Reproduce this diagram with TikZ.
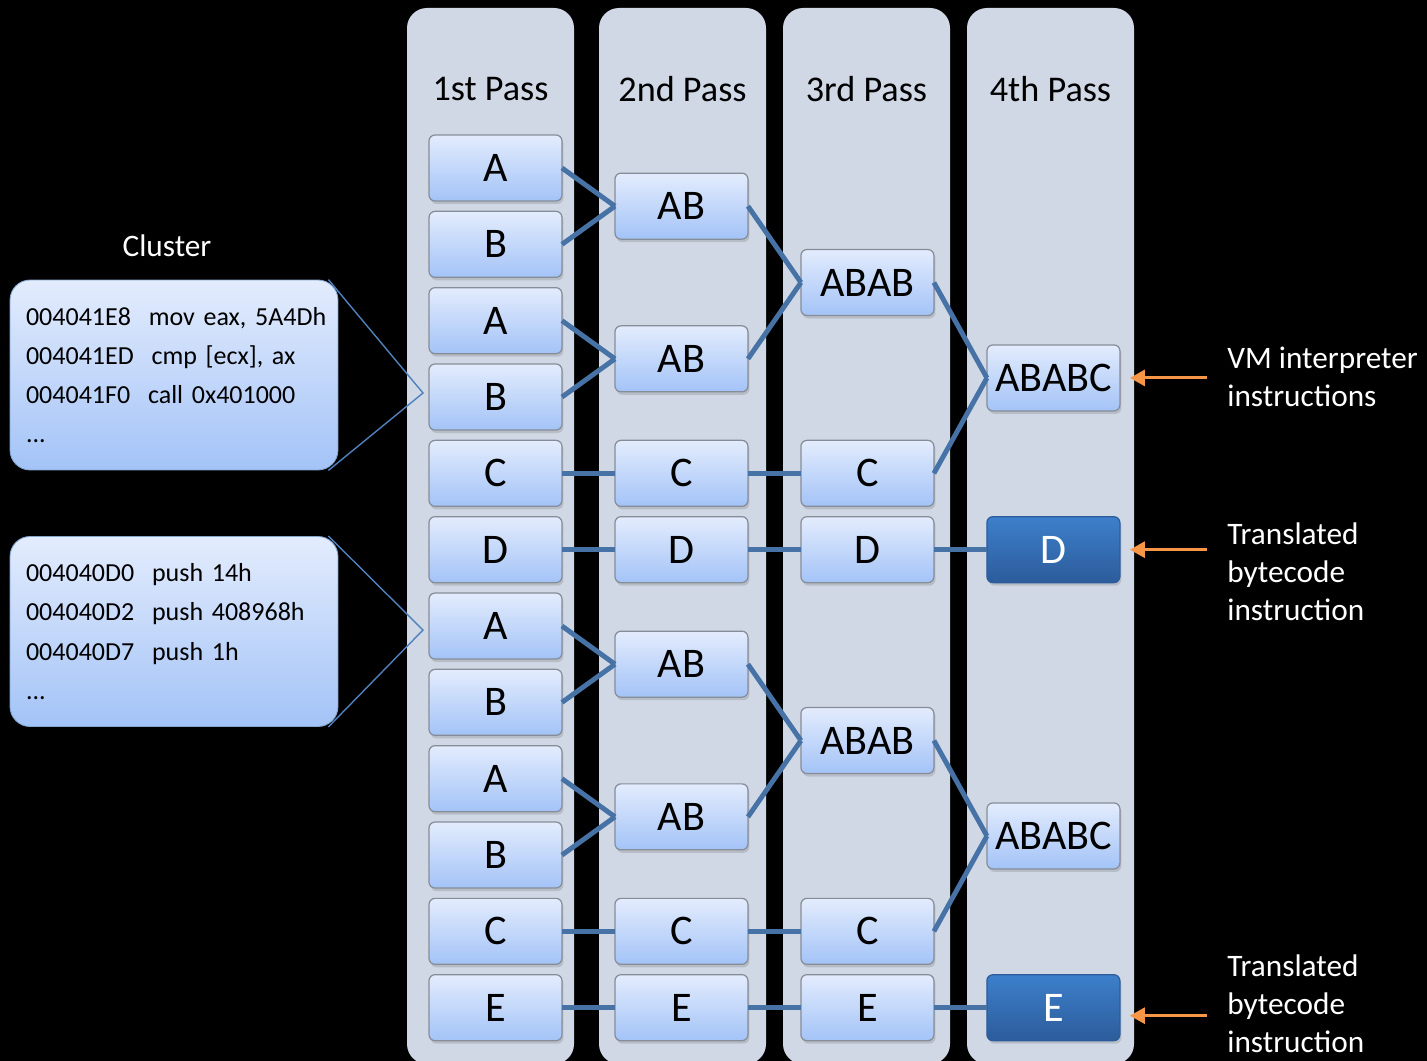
\documentclass[tikz,border=0pt]{standalone}
\usepackage{fontspec}
\setmainfont{Carlito}
\usepackage{tikz}
\usetikzlibrary{calc}
\usetikzlibrary{positioning}
\usetikzlibrary{shadows}
\usetikzlibrary{arrows.meta}
\frenchspacing

\definecolor{lanegray}{HTML}{D0D8E6}
\definecolor{boxtop}{HTML}{E3ECFD}
\definecolor{boxbot}{HTML}{A3C3F7}
\definecolor{boxline}{HTML}{878D98}
\definecolor{darktop}{HTML}{3D7FCB}
\definecolor{darkbot}{HTML}{2C5C9B}
\definecolor{linkblue}{HTML}{4672A5}
\definecolor{hintorange}{HTML}{F79646}
\definecolor{ptrblue}{HTML}{4F81BD}

\begin{document}
\begin{tikzpicture}[x=0.02cm, y=-0.02cm]

        \def\hgap{1.06cm}
        \def\vgap{0.207cm}
        \def\hs{0.7636cm}

        % Styles for the pass boxes, the links and the side notes
        \tikzset{
            box/.style={draw=boxline, line width=0.7pt, rounded corners=0.12cm,
                top color=boxtop, bottom color=boxbot,
                minimum width=2.66cm, minimum height=1.32cm, inner sep=0pt,
                outer sep=0pt, font=\fontsize{24}{28}\selectfont,
                drop shadow={shadow xshift=0.3mm, shadow yshift=-0.6mm,
                    opacity=0.3}},
            done/.style={box, draw=darkbot, top color=darktop,
                bottom color=darkbot, text=white},
            link/.style={draw=linkblue, line width=2.8pt},
            hint/.style={draw=hintorange, line width=1.7pt,
                -{Triangle[length=0.3cm, width=0.32cm]}},
            note/.style={text=white, align=left, inner sep=0pt,
                font=\fontsize{17.8}{21.5}\selectfont},
            callout/.style={draw=ptrblue!70!white, line width=0.5pt,
                rounded corners=0.4cm, top color=boxtop, bottom color=boxbot,
                minimum width=6.56cm, minimum height=3.8cm, inner sep=0pt,
                align=left, text width=5.92cm,
                font=\fontsize{14.8}{22.3}\selectfont},
            ptr/.style={draw=ptrblue, line width=0.8pt}
        }

        \clip (0,0) rectangle (1427,1061);
        \fill[black] (0,0) rectangle (1427,1061);

        % Lanes with their headers
        \foreach \x/\t [count=\i] in {490.5/1st, 682.5/2nd, 866.5/3rd, 1050.5/4th}
        {
            \fill[lanegray, rounded corners=0.4cm]
                (\x-83.5,8) rectangle (\x+83.5,1064);
            \node (pass\i) at (\x,89)
                {\fontsize{20.6}{24}\selectfont \t{} Pass};
        }

        % 1st pass
        \node[box] (a1) at (495.5,168) {A};
        \node[box] (a2) [below=\vgap of a1] {B};
        \node[box] (a3) [below=\vgap of a2] {A};
        \node[box] (a4) [below=\vgap of a3] {B};
        \node[box] (a5) [below=\vgap of a4] {C};
        \node[box] (a6) [below=\vgap of a5] {D};
        \node[box] (a7) [below=\vgap of a6] {A};
        \node[box] (a8) [below=\vgap of a7] {B};
        \node[box] (a9) [below=\vgap of a8] {A};
        \node[box] (a10) [below=\vgap of a9] {B};
        \node[box] (a11) [below=\vgap of a10] {C};
        \node[box] (a12) [below=\vgap of a11] {E};

        % 2nd pass
        \node[box] (b1) [right=\hgap of a1, yshift=-\hs] {AB};
        \node[box] (b2) [right=\hgap of a3, yshift=-\hs] {AB};
        \node[box] (b3) [right=\hgap of a5] {C};
        \node[box] (b4) [right=\hgap of a6] {D};
        \node[box] (b5) [right=\hgap of a7, yshift=-\hs] {AB};
        \node[box] (b6) [right=\hgap of a9, yshift=-\hs] {AB};
        \node[box] (b7) [right=\hgap of a11] {C};
        \node[box] (b8) [right=\hgap of a12] {E};

        % 3rd pass
        \node[box] (c1) [right=\hgap of b1, yshift=-2*\hs] {ABAB};
        \node[box] (c2) [right=\hgap of b3] {C};
        \node[box] (c3) [right=\hgap of b4] {D};
        \node[box] (c4) [right=\hgap of b5, yshift=-2*\hs] {ABAB};
        \node[box] (c5) [right=\hgap of b7] {C};
        \node[box] (c6) [right=\hgap of b8] {E};

        % 4th pass
        \node[box] (d1) at ($(c1)!.5!(c2)+(186,0)$) {ABABC};
        \node[done] (d2) [right=\hgap of c3] {D};
        \node[box] (d3) at ($(c4)!.5!(c5)+(186,0)$) {ABABC};
        \node[done] (d4) [right=\hgap of c6] {E};

        \begin{scope}[link]
            \draw (a1.east) -- (b1.west);
            \draw (a2.east) -- (b1.west);
            \draw (a3.east) -- (b2.west);
            \draw (a4.east) -- (b2.west);
            \draw (a5.east) -- (b3.west);
            \draw (a6.east) -- (b4.west);
            \draw (a7.east) -- (b5.west);
            \draw (a8.east) -- (b5.west);
            \draw (a9.east) -- (b6.west);
            \draw (a10.east) -- (b6.west);
            \draw (a11.east) -- (b7.west);
            \draw (a12.east) -- (b8.west);

            \draw (b1.east) -- (c1.west);
            \draw (b2.east) -- (c1.west);
            \draw (b3.east) -- (c2.west);
            \draw (b4.east) -- (c3.west);
            \draw (b5.east) -- (c4.west);
            \draw (b6.east) -- (c4.west);
            \draw (b7.east) -- (c5.west);
            \draw (b8.east) -- (c6.west);

            \draw (c1.east) -- (d1.west);
            \draw (c2.east) -- (d1.west);
            \draw (c3.east) -- (d2.west);
            \draw (c4.east) -- (d3.west);
            \draw (c5.east) -- (d3.west);
            \draw (c6.east) -- (d4.west);
        \end{scope}

        % Clusters of native code
        \node[text=white, font=\fontsize{17.8}{21.5}\selectfont]
            (cluster) at (167,246) {Cluster};
        \node[callout] (cl1) at (174,375)
            {\mbox{004041E8\hspace{0.35em} mov eax, 5A4Dh}\\
             \mbox{004041ED\hspace{0.35em} cmp [ecx], ax}\\
             \mbox{004041F0\hspace{0.35em} call 0x401000}\\
             ...\\[-0.2cm]};
        \node[callout] (cl2) at (174,631.5)
            {\mbox{004040D0\hspace{0.35em} push 14h}\\
             \mbox{004040D2\hspace{0.35em} push 408968h}\\
             \mbox{004040D7\hspace{0.35em} push 1h}\\
             ...\\[-0.2cm]};
        \coordinate (tip1) at (423,393);
        \coordinate (tip2) at (423,630);
        \draw[ptr] ([xshift=-0.2cm]cl1.north east) -- (tip1)
            -- ([xshift=-0.2cm]cl1.south east);
        \draw[ptr] ([xshift=-0.2cm]cl2.north east) -- (tip2)
            -- ([xshift=-0.2cm]cl2.south east);

        % Side notes
        \node[note, anchor=west] (n1) at (1227,377)
            {VM interpreter\\instructions};
        \node[note, anchor=west] (n2) at (1227,572)
            {Translated\\bytecode\\instruction};
        \node[note, anchor=west] (n3) at (1227,1004)
            {Translated\\bytecode\\instruction};

        \draw[hint, shorten <=0.4cm, shorten >=0.2cm]
            (d1.east -| n1.west) -- (d1.east);
        \draw[hint, shorten <=0.4cm, shorten >=0.2cm]
            (d2.east -| n2.west) -- (d2.east);
        \draw[hint, shorten <=0.4cm, shorten >=0.2cm]
            ([yshift=-0.16cm]d4.east -| n3.west) -- ([yshift=-0.16cm]d4.east);

\end{tikzpicture}
\end{document}
